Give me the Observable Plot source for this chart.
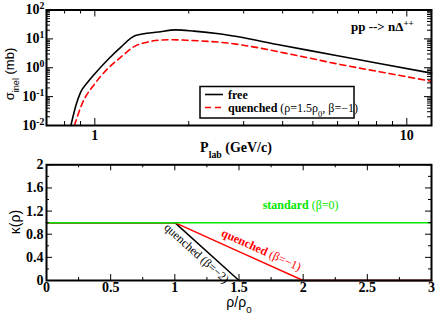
<!DOCTYPE html>
<html><head><meta charset="utf-8">
<script src="https://cdn.jsdelivr.net/npm/d3@7"></script>
<script src="https://cdn.jsdelivr.net/npm/@observablehq/plot@0.6"></script>
<style>
html,body{margin:0;padding:0;background:#fff;}
#chart{width:436px;height:314px;position:relative;overflow:hidden;}
svg{display:block;}
</style></head><body><div id="chart"></div>
<script>
// ---------- data (top panel) ----------
const pFree    = [0.838, 0.87, 0.90, 0.95, 1.0, 1.1, 1.21, 1.35, 1.6, 1.82, 2.08, 2.5, 4, 6, 8, 12];
const sigFree  = [0.01, 0.05, 0.14, 0.32, 0.62, 1.9, 5.1, 13, 17.3, 20.5, 18.5, 15, 5.9, 2.6, 1.47, 0.65];
const pQuench  = [0.86, 0.91, 1.0, 1.1, 1.21, 1.34, 1.47, 1.63, 1.75, 2.03, 2.5, 4.57, 6, 8, 12];
const sigQuench= [0.01, 0.056, 0.28, 0.93, 2.3, 5.5, 7.7, 9.1, 9.3, 8.8, 7.7, 2.5, 1.35, 0.76, 0.34];
const legendLabels = ["*free*", "*quenched* (ρ=1.5ρ_{0}, β=−1)"];
const topNote = "*pp --> nΔ^{++}*";
const xTicksTop = [1, 10];
const xTickLabelsTop = ["1", "10"];
const xMinorTop = [0.8, 0.9, 2, 3, 4, 5, 6, 7, 8, 9];
const yTicksTop = [0.01, 0.1, 1, 10, 100];
const yTickLabelsTop = ["10^{-2}", "10^{-1}", "10^{0}", "10^{1}", "10^{2}"];
const yMinorTop = [0.01, 0.1, 1, 10].flatMap(d => [2,3,4,5,6,7,8,9].map(k => d * k));
const xLabelTop = "*P_{lab} (GeV/c)*";
const yLabelTop = "σ_{inel} (mb)";

// ---------- data (bottom panel) ----------
const rho       = [0, 0.5, 1, 1.5, 2, 2.5, 3];
const kStandard = [1, 1, 1, 1, 1, 1, 1];
const kBetaM1   = [1, 1, 1, 0.5, 0, 0, 0];
const kBetaM2   = [1, 1, 1, 0, 0, 0, 0];
const xTicksBot = [0, 0.5, 1, 1.5, 2, 2.5, 3];
const xTickLabelsBot = ["0", "0.5", "1", "1.5", "2", "2.5", "3"];
const xMinorBot = [0.25, 0.75, 1.25, 1.75, 2.25, 2.75];
const yTicksBot = [0, 0.4, 0.8, 1.2, 1.6, 2];
const yTickLabelsBot = ["0", "0.4", "0.8", "1.2", "1.6", "2"];
const yMinorBot = [0.2, 0.6, 1.0, 1.4, 1.8];
const notesBot  = ["*standard* (β=0)", "*quenched* (β=−1)", "quenched (β=−2)"];
const notesX    = [1.98, 1.674, 1.17];
const notesY    = [1.31, 0.53, 0.47];
const xLabelBot = "ρ/ρ_{0}";
const yLabelBot = "κ(ρ)";

// ---------- layout ----------
const W = 436, ML = 46, MR = 5;
const IW = W - ML - MR;
const HT = 155, MTT = 9.5, MBT = 30, IHT = HT - MTT - MBT;
const HB = 159, MTB = 9.3, MBB = 34, IHB = HB - MTB - MBB;
const GREEN = "#00e600";

function tickMarks(xMaj, xMin, yMaj, yMin, ih, iw, maj, min) {
  const o = {stroke: "black", strokeWidth: 1};
  return [
    Plot.tickX(xMaj, {...o, x: d => d, insetTop: ih - maj}),
    Plot.tickX(xMaj, {...o, x: d => d, insetBottom: ih - maj}),
    Plot.tickX(xMin, {...o, x: d => d, insetTop: ih - min}),
    Plot.tickX(xMin, {...o, x: d => d, insetBottom: ih - min}),
    Plot.tickY(yMaj, {...o, y: d => d, insetRight: iw - maj}),
    Plot.tickY(yMaj, {...o, y: d => d, insetLeft: iw - maj}),
    Plot.tickY(yMin, {...o, y: d => d, insetRight: iw - min}),
    Plot.tickY(yMin, {...o, y: d => d, insetLeft: iw - min})
  ];
}

const fmt = (ticks, labels) => d => labels[ticks.findIndex(t => Math.abs(t - d) < 1e-9)] ?? "";

const topPlot = Plot.plot({
  width: W, height: HT,
  marginLeft: ML, marginRight: MR, marginTop: MTT, marginBottom: MBT,
  style: {fontFamily: "Liberation Serif", background: "white", overflow: "visible"},
  x: {type: "log", domain: [0.7, 12]},
  y: {type: "log", domain: [0.01, 100]},
  marks: [
    Plot.line(pQuench, {x: pQuench, y: sigQuench, stroke: "red", strokeWidth: 1.6, strokeDasharray: "6,4", curve: "monotone-x"}),
    Plot.line(pFree, {x: pFree, y: sigFree, stroke: "black", strokeWidth: 1.6, curve: "monotone-x"}),
    ...tickMarks(xTicksTop, xMinorTop, yTicksTop, yMinorTop, IHT, IW, 7, 4),
    Plot.axisX({ticks: xTicksTop, tickFormat: fmt(xTicksTop, xTickLabelsTop), tickSize: 0, tickPadding: 5, fontSize: 14, fontWeight: "bold", label: null}),
    Plot.axisY({ticks: yTicksTop, tickFormat: fmt(yTicksTop, yTickLabelsTop), tickSize: 0, tickPadding: 2, fontSize: 14, fontWeight: "bold", label: null}),
    Plot.frame({stroke: "black", strokeWidth: 2})
  ]
});

const botPlot = Plot.plot({
  width: W, height: HB,
  marginLeft: ML, marginRight: MR, marginTop: MTB, marginBottom: MBB,
  style: {fontFamily: "Liberation Serif", background: "white", overflow: "visible"},
  x: {domain: [0, 3]},
  y: {domain: [0, 2]},
  marks: [
    Plot.line(rho, {x: rho, y: kBetaM2, stroke: "black", strokeWidth: 1.5}),
    Plot.line(rho, {x: rho, y: kBetaM1, stroke: "red", strokeWidth: 1.5}),
    Plot.line(rho, {x: rho, y: kStandard, stroke: GREEN, strokeWidth: 1.5}),
    Plot.text(notesBot.slice(0, 1), {x: notesX.slice(0, 1), y: notesY.slice(0, 1), fill: GREEN, fontSize: 12}),
    Plot.text(notesBot.slice(1, 2), {x: notesX.slice(1, 2), y: notesY.slice(1, 2), fill: "red", fontSize: 12, rotate: 24.3}),
    Plot.text(notesBot.slice(2, 3), {x: notesX.slice(2, 3), y: notesY.slice(2, 3), fill: "black", fontSize: 12, rotate: 42}),
    ...tickMarks(xTicksBot, xMinorBot, yTicksBot, yMinorBot, IHB, IW, 6, 3),
    Plot.axisX({ticks: xTicksBot, tickFormat: fmt(xTicksBot, xTickLabelsBot), tickSize: 0, tickPadding: 2, fontSize: 14, fontWeight: "bold", label: null}),
    Plot.axisY({ticks: yTicksBot, tickFormat: fmt(yTicksBot, yTickLabelsBot), tickSize: 0, tickPadding: 3, fontSize: 14, fontWeight: "bold", label: null}),
    Plot.frame({stroke: "black", strokeWidth: 2})
  ]
});

// ---------- extra text / legend ----------
function addText(svg, str, x, y, opts = {}) {
  const t = d3.select(svg).append("text")
    .attr("x", x).attr("y", y)
    .attr("text-anchor", opts.anchor || "middle")
    .attr("font-family", opts.family || "Liberation Serif")
    .attr("font-size", opts.size || 14)
    .attr("fill", opts.fill || "black")
    .text(str);
  if (opts.weight) t.attr("font-weight", opts.weight);
  if (opts.rotate != null) t.attr("transform", `rotate(${opts.rotate},${x},${y})`);
  return t;
}

{
  const g = d3.select(topPlot);
  g.append("rect").attr("x", 200).attr("y", 86.5).attr("width", 154).attr("height", 31.5)
    .attr("fill", "white").attr("stroke", "black").attr("stroke-width", 1.5);
  g.append("line").attr("x1", 205).attr("x2", 223).attr("y1", 94.5).attr("y2", 94.5)
    .attr("stroke", "black").attr("stroke-width", 1.6);
  g.append("line").attr("x1", 205).attr("x2", 225).attr("y1", 107.5).attr("y2", 107.5)
    .attr("stroke", "red").attr("stroke-width", 1.6).attr("stroke-dasharray", "6,4");
  addText(topPlot, legendLabels[0], 228, 98.5, {anchor: "start", size: 12});
  addText(topPlot, legendLabels[1], 228, 111.5, {anchor: "start", size: 12});
  addText(topPlot, topNote, 351, 31, {anchor: "start", size: 13});
  addText(topPlot, xLabelTop, 236, 152, {size: 14});
  addText(topPlot, yLabelTop, 14, 74, {family: "Liberation Sans", size: 13, rotate: -90});
  // bottom svg starts at page y = 155
  addText(botPlot, xLabelBot, 239, 307 - 155, {family: "Liberation Sans", size: 14});
  addText(botPlot, yLabelBot, 20, 222 - 155, {family: "Liberation Sans", size: 14, rotate: -90});
}

// ---------- rich text: *bold*, ^{sup}, _{sub} ----------
function richify(svg) {
  d3.select(svg).selectAll("text").each(function() {
    const s = this.textContent;
    if (!/[\^_]\{|\*/.test(s)) return;
    const parts = s.split(/(\^\{[^}]*\}|_\{[^}]*\}|\*[^*]*\*)/g).filter(p => p !== "");
    this.textContent = "";
    const sel = d3.select(this);
    const addParts = (target, list) => {
      for (const p of list) {
        if (p.startsWith("^{")) {
          target.append("tspan").attr("baseline-shift", "super").style("font-size", "70%").text(p.slice(2, -1));
        } else if (p.startsWith("_{")) {
          target.append("tspan").attr("baseline-shift", "sub").style("font-size", "70%").text(p.slice(2, -1));
        } else if (p.startsWith("*")) {
          const inner = p.slice(1, -1);
          const b = target.append("tspan").attr("font-weight", "bold");
          const sub = inner.split(/(\^\{[^}]*\}|_\{[^}]*\})/g).filter(q => q !== "");
          addParts(b, sub);
        } else {
          target.append("tspan").text(p);
        }
      }
    };
    addParts(sel, parts);
  });
}

for (const svg of [topPlot, botPlot]) richify(svg);
d3.select(botPlot).selectAll('g[aria-label="text"] text').attr("font-weight", "normal");
d3.select(topPlot).selectAll('g[aria-label="text"] text').attr("font-weight", "normal");

const chart = document.getElementById("chart");
chart.appendChild(topPlot);
chart.appendChild(botPlot);
</script></body></html>
